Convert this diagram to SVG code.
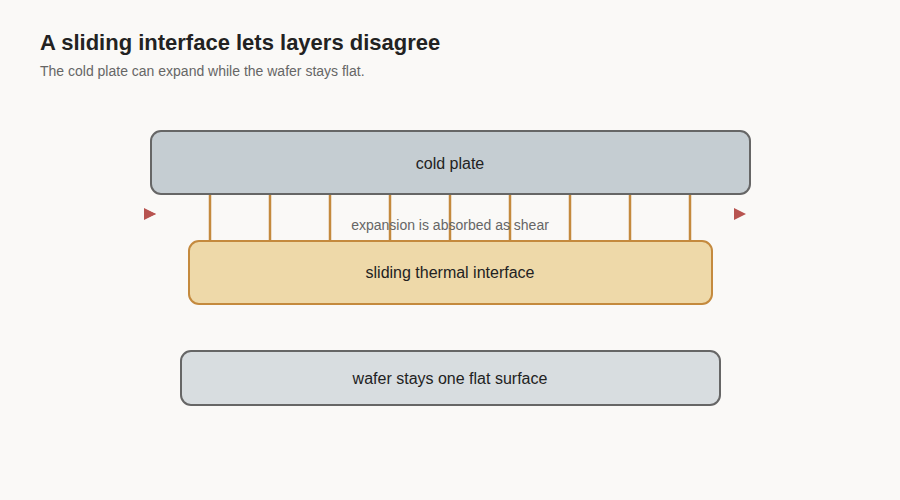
<svg xmlns="http://www.w3.org/2000/svg" width="900" height="500" viewBox="0 0 900 500">
<style>
text{font-family:"Liberation Sans",Arial,sans-serif}
.lbl{font-size:16px;fill:#222;text-anchor:middle}
.strut{stroke:#c48a3e;stroke-width:2.5}
</style>
<defs><marker id="ah" markerWidth="12" markerHeight="10" refX="12" refY="5" orient="auto" markerUnits="userSpaceOnUse"><path d="M0,0L12,5L0,10Z" fill="#b85450"/></marker></defs>
<rect width="900" height="500" fill="#faf9f7"/>
<text x="40" y="50" font-size="22" font-weight="bold" fill="#222">A sliding interface lets layers disagree</text>
<text x="40" y="76" font-size="14" fill="#666">The cold plate can expand while the wafer stays flat.</text>
<g id="cold-plate"><rect x="151" y="131" width="599" height="63" rx="10" fill="#c5cdd2" stroke="#666" stroke-width="2"/><text class="lbl" x="450" y="169">cold plate</text></g>
<g id="connectors">
<g class="strut"><line x1="210" y1="195" x2="210" y2="241"/><line x1="270" y1="195" x2="270" y2="241"/><line x1="330" y1="195" x2="330" y2="241"/><line x1="390" y1="195" x2="390" y2="241"/><line x1="450" y1="195" x2="450" y2="241"/><line x1="510" y1="195" x2="510" y2="241"/><line x1="570" y1="195" x2="570" y2="241"/><line x1="630" y1="195" x2="630" y2="241"/><line x1="690" y1="195" x2="690" y2="241"/></g>
<line x1="143" y1="214" x2="156" y2="214" stroke="none" marker-end="url(#ah)"/>
<path d="M144,208L156,214L144,220Z" fill="#b85450"/>
<path d="M734,208L746,214L734,220Z" fill="#b85450"/>
<text x="450" y="230" font-size="14" fill="#666" text-anchor="middle">expansion is absorbed as shear</text>
</g>
<g id="interface"><rect x="189" y="241" width="523" height="63" rx="10" fill="#eed9a9" stroke="#c48a3e" stroke-width="2"/><text class="lbl" x="450" y="278">sliding thermal interface</text></g>
<g id="wafer"><rect x="181" y="351" width="539" height="54" rx="10" fill="#d8dde0" stroke="#666" stroke-width="2"/><text class="lbl" x="450" y="384">wafer stays one flat surface</text></g>
</svg>
